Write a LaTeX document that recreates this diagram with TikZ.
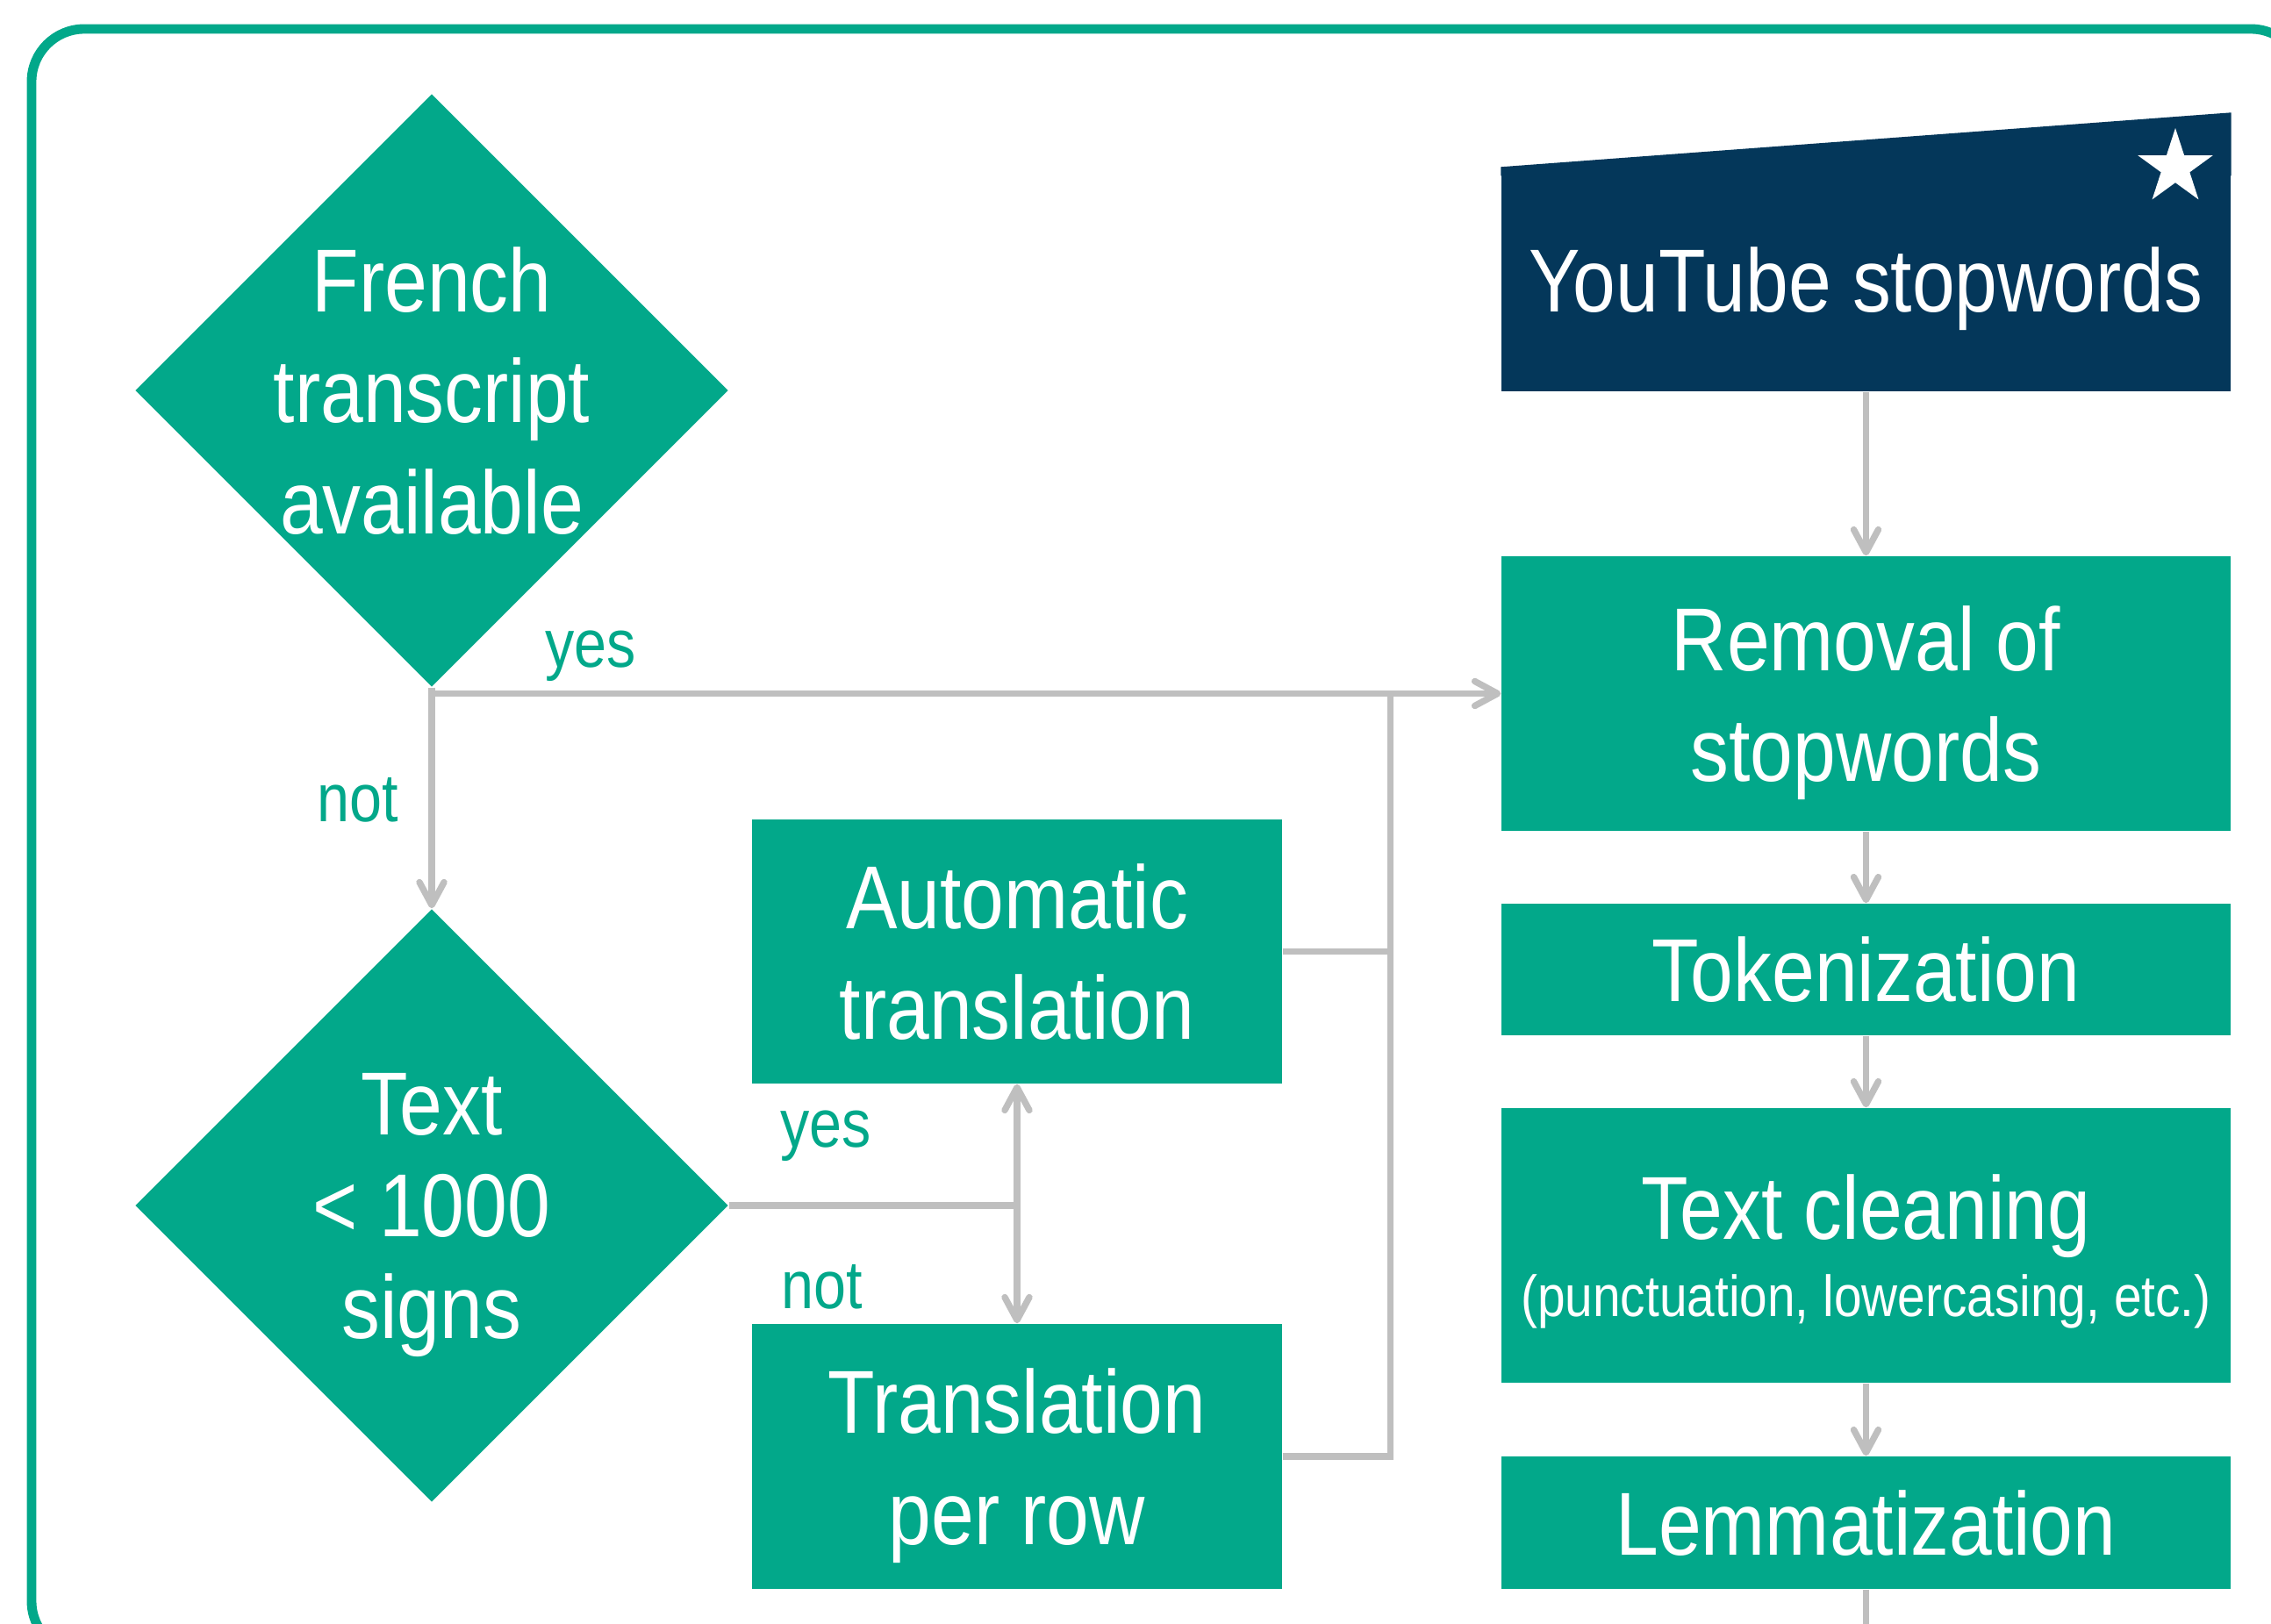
\documentclass[tikz,border=0pt]{standalone}
\usepackage{fontspec}
\setmainfont[FakeStretch=0.86]{Liberation Sans}
\usepackage{tikz}
\usetikzlibrary{shapes.geometric,arrows.meta}

\definecolor{ftgreen}{HTML}{02A88A}
\definecolor{ftnavy}{HTML}{04375A}
\definecolor{ftgray}{HTML}{BFBFBF}

\newcommand{\boxfont}{\fontsize{29}{36}\selectfont}
\newcommand{\labfont}{\fontsize{22}{27}\selectfont}
\newcommand{\smallfont}{\fontsize{18.8}{23}\selectfont}

\begin{document}
\begin{tikzpicture}
    \useasboundingbox (0,0) rectangle (25.88,-18.51);
    \draw [ftgreen, line width=3.1pt, rounded corners=6mm] (0.36,-0.33) rectangle (26.25,-18.85);

		\begin{scope}[every node/.style={fill=ftgreen,text=white,align=center,inner sep=0pt,text depth=0pt,font=\boxfont}]
    \node (1) at (4.92,-4.45) [diamond,minimum size=6.76cm,inner sep=-3mm] {French\\transcript\\available};
    \node (2) at (4.92,-13.74) [diamond,minimum size=6.76cm,inner sep=-3mm,font=\fontsize{29}{33}\selectfont] {Text\\< 1000\\signs};
    \node (3) at (11.59,-10.845) [minimum width=6.04cm,minimum height=3.01cm] {Automatic\\translation};
    \node (4) at (11.59,-16.60) [minimum width=6.04cm,minimum height=3.02cm] {Translation\\per row};
    \node (5) at (21.265,-3.185) [fill=ftnavy,minimum width=8.31cm,minimum height=2.55cm] {YouTube stopwords};
    \fill [ftnavy] ([yshift=-1mm]5.north west) -- (5.north west) -- ([yshift=6.2mm]5.north east) -- ([yshift=-1mm]5.north east) -- cycle;
    \node (s) at (24.79,-1.91) [star,star points=5,star point ratio=2.618,fill=white,minimum size=0.9cm] {};
    \node (6) at (21.265,-7.905) [minimum width=8.31cm,minimum height=3.13cm] {Removal of\\stopwords};
    \node (7) at (21.265,-11.05) [minimum width=8.31cm,minimum height=1.50cm] {Tokenization};
    \node (8) at (21.265,-14.195) [minimum width=8.31cm,minimum height=3.13cm,text depth=-3pt] {Text cleaning\\[-11pt]{\smallfont (punctuation, lowercasing, etc.)}};
    \node (9) at (21.265,-17.355) [minimum width=8.31cm,minimum height=1.51cm] {Lemmatization};
	\end{scope}

		\begin{scope}[every node/.style={text=ftgreen,anchor=base,font=\labfont}]
    \node (y1) at (6.73,-7.61) {yes};
    \node (n1) at (4.08,-9.37) {not};
    \node (y2) at (9.41,-13.08) {yes};
    \node (n2) at (9.37,-14.92) {not};
	\end{scope}

    \coordinate (sp) at (2.east -| 3.south);
    \coordinate (m) at ([xshift=-12.6mm]6.west);
    \coordinate (e) at ([yshift=-1cm]9.south);

	\begin{scope}[>={Straight Barb[round,length=2.6mm,width=2.8mm]},
              color=ftgray, line width=2.1pt,
              every edge/.style={draw}]
    \path [->] (5) edge (6);
    \path [->] (6) edge (7);
    \path [->] (7) edge (8);
    \path [->] (8) edge (9);
    \path (9) edge (e);
    \path [->] (1) edge (2);
		\draw [->] (1.south) |- (6.west);
		\draw (2.east) -- (sp);
		\path [->] (sp) edge (3);
		\path [->] (sp) edge (4);
		\draw (3.east) -- (3.east -| m);
		\draw (4.east) -| (m);
\end{scope}
\end{tikzpicture}
\end{document}
